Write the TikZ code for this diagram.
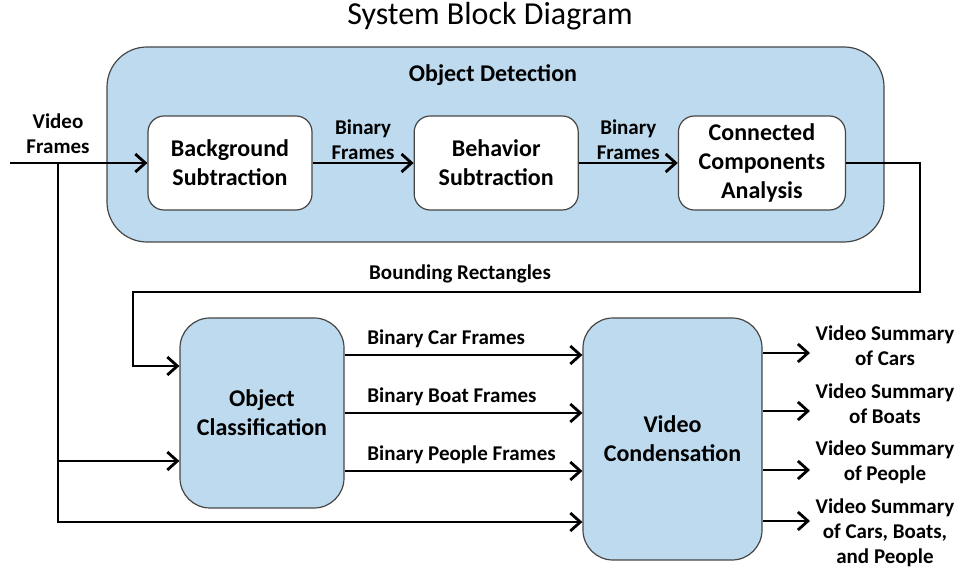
\documentclass[tikz,border=0pt]{standalone}
\usepackage{fontspec}
\setmainfont{Carlito}
\usetikzlibrary{positioning}
\usetikzlibrary{arrows.meta}

\definecolor{blockblue}{RGB}{190,218,238}
\definecolor{blockedge}{RGB}{70,70,70}

\begin{document}
\begin{tikzpicture}[x=0.5pt, y=-0.5pt,
    font=\bfseries\fontsize{12}{14.5}\selectfont,
    stage/.style={draw=blockedge, line width=0.6pt, rounded corners=8pt, fill=white,
        align=center, minimum width=82pt, minimum height=47pt, inner sep=2pt},
    bluestage/.style={stage, fill=blockblue, rounded corners=15pt},
    flow/.style={line width=1.4pt, -{Straight Barb[length=5pt,width=9pt]}},
    wire/.style={line width=1.4pt},
    lbl/.style={font=\bfseries\fontsize{10.5}{12.5}\selectfont, align=center, inner sep=1pt}]

    \useasboundingbox (0,0) rectangle (959,571);

    \node[font=\fontsize{16}{19}\selectfont] (title) at (490,16) {System Block Diagram};

    % detection stage
    \node[bluestage, minimum width=388.5pt, minimum height=97.5pt, rounded corners=20pt] (detect) at (495.5,144.5) {};
    \node (detlbl) at (493,75) {Object Detection};

    \node[stage] (bgsub) at (230,163) {Background\\Subtraction};
    \node[stage, right=50.5pt of bgsub] (behsub) {Behavior\\Subtraction};
    \node[stage, right=49.5pt of behsub, minimum width=83.5pt] (cca) {Connected\\Components\\Analysis};

    % classification and condensation
    \node[bluestage, minimum height=95pt] (objcls) at (262,413) {Object\\Classification};
    \node[bluestage, minimum width=89.5pt, minimum height=121pt] (vidcond) at (672.5,439) {Video\\Condensation};

    % video input
    \coordinate (vin) at (10,163);
    \coordinate (vsplit) at (58,163);
    \node[lbl] (vinlbl) at (58,134) {Video\\Frames};
    \draw[flow] (vin) -- (bgsub);
    \draw[flow] (vsplit) |- (objcls.west |- 0,461);
    \draw[flow] (vsplit) |- (vidcond.west |- 0,522);

    \draw[flow] (bgsub) -- node[lbl, above=0pt] (bin1) {Binary\\Frames} (behsub);
    \draw[flow] (behsub) -- node[lbl, above=0pt] (bin2) {Binary\\Frames} (cca);

    % bounding rectangles loop back
    \coordinate (bendr) at (920,292);
    \coordinate (bendl) at (133,292);
    \draw[flow] (cca.east) -| (bendr) -- (bendl) |- (objcls.west |- 0,366);
    \node[lbl] (bndlbl) at (460,274) {Bounding Rectangles};

    \draw[flow] (objcls.east |- 0,355) -- (vidcond.west |- 0,355);
    \draw[flow] (objcls.east |- 0,413) -- (vidcond.west |- 0,413);
    \draw[flow] (objcls.east |- 0,471) -- (vidcond.west |- 0,471);
    \node[lbl, anchor=west] (carlbl) at (365,339) {Binary Car Frames};
    \node[lbl, anchor=west] (boatlbl) at (365,397) {Binary Boat Frames};
    \node[lbl, anchor=west] (pplbl) at (365,455) {Binary People Frames};

    % summaries
    \coordinate (out1) at (810,353);
    \coordinate (out2) at (810,411);
    \coordinate (out3) at (810,470);
    \coordinate (out4) at (810,521);
    \draw[flow] (vidcond.east |- out1) -- (out1);
    \draw[flow] (vidcond.east |- out2) -- (out2);
    \draw[flow] (vidcond.east |- out3) -- (out3);
    \draw[flow] (vidcond.east |- out4) -- (out4);
    \node[lbl] (sum1) at (885,345.5) {Video Summary\\of Cars};
    \node[lbl] (sum2) at (885,403.5) {Video Summary\\of Boats};
    \node[lbl] (sum3) at (885,462.5) {Video Summary\\of People};
    \node[lbl] (sum4) at (885,533) {Video Summary\\of Cars, Boats,\\and People};
\end{tikzpicture}
\end{document}
